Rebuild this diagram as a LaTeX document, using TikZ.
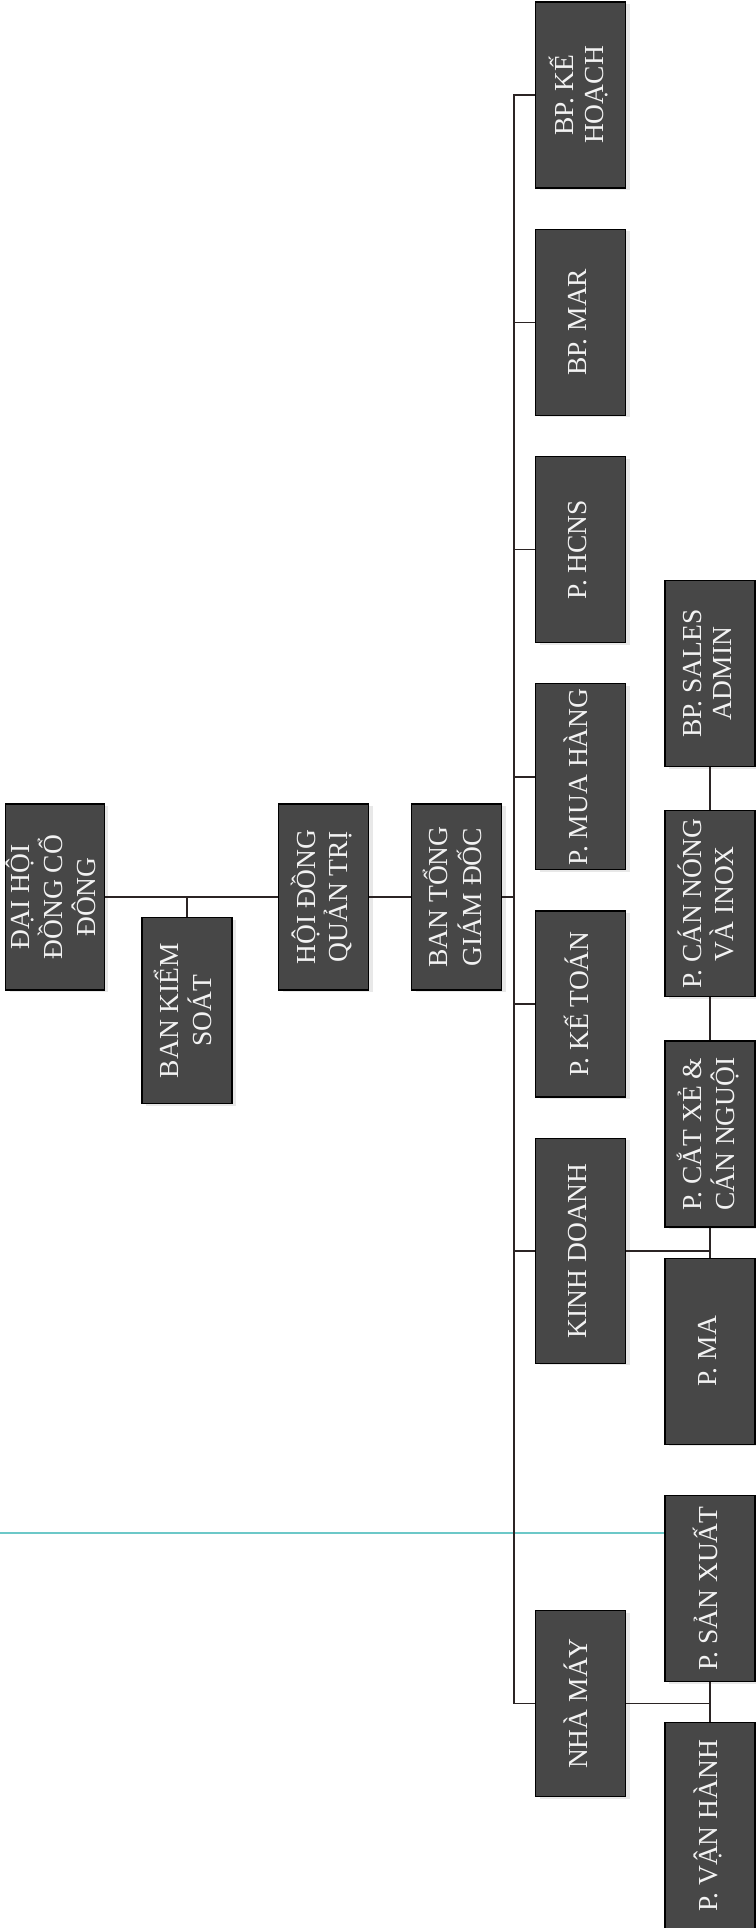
\documentclass[tikz,border=0pt]{standalone}
\usepackage{fontspec}
\setmainfont{Liberation Serif}
\usepackage{graphicx}
\usepackage{tikz}
\usetikzlibrary{positioning,calc,shadows}
\definecolor{boxfill}{HTML}{474747}
\definecolor{boxtext}{HTML}{F2F2F2}
\definecolor{linkline}{HTML}{2B2424}
\definecolor{scanline}{HTML}{6CC8C8}

\newcommand{\vlabel}[1]{\rotatebox{90}{\begin{tabular}{@{}c@{}}#1\end{tabular}}}

\begin{document}
\begin{tikzpicture}[
  x=0.4pt, y=-0.4pt,
  box/.style={draw=black, line width=0.5pt, fill=boxfill, text=boxtext, inner sep=0pt,
    minimum width=36pt, minimum height=74.4pt, align=center,
    font=\fontsize{11}{12}\selectfont,
    drop shadow={shadow xshift=1.6pt, shadow yshift=-0.8pt, opacity=0.18}},
  tallbox/.style={box, minimum height=90pt},
  link/.style={draw=linkline, line width=0.6pt},
]
  \useasboundingbox (0,0) rectangle (755,1928);

  % scanner streak
  \coordinate (streak) at (0,1533);
  \draw[scanline, line width=0.7pt] (streak) -- (665,1533);

  % top chain
  \node[box] (dhcd) at (55,897) {\vlabel{ĐẠI HỘI\\ĐỒNG CỔ\\ĐÔNG}};
  \node[box] (bks) at (187,1010.5) {\vlabel{BAN KIỂM\\SOÁT}};
  \node[box, right=69.2pt of dhcd] (hdqt) {\vlabel{HỘI ĐỒNG\\QUẢN TRỊ}};
  \node[box, right=16.8pt of hdqt] (btgd) {\vlabel{BAN TỔNG\\GIÁM ĐỐC}};

  % departments
  \node[box] (kehoach) at (580.5,95) {\vlabel{BP. KẾ\\HOẠCH}};
  \node[box, below=16pt of kehoach] (mar) {\vlabel{BP. MAR}};
  \node[box, below=16pt of mar] (hcns) {\vlabel{P. HCNS}};
  \node[box, below=16pt of hcns] (muahang) {\vlabel{P. MUA HÀNG}};
  \node[box, below=16pt of muahang] (ketoan) {\vlabel{P. KẾ TOÁN}};
  \node[tallbox, below=16pt of ketoan] (kinhdoanh) {\vlabel{KINH DOANH}};
  \node[box, below=98.4pt of kinhdoanh] (nhamay) {\vlabel{NHÀ MÁY}};

  % sub-departments
  \node[box] (salesadmin) at (710,673.5) {\vlabel{BP. SALES\\ADMIN}};
  \node[box, below=17.2pt of salesadmin] (cannong) {\vlabel{P. CÁN NÓNG\\VÀ INOX}};
  \node[box, below=17.2pt of cannong] (catxe) {\vlabel{P. CẮT XẺ \&\\CÁN NGUỘI}};
  \node[box, below=12pt of catxe] (pma) {\vlabel{P. MA}};
  \node[box, below=20pt of pma] (sanxuat) {\vlabel{P. SẢN XUẤT}};
  \node[box, below=16pt of sanxuat, minimum height=82.4pt] (vanhanh) {\vlabel{P. VẬN HÀNH}};

  % connectors
  \draw[link] (dhcd.east) -- (hdqt.west);
  \draw[link] (bks.north) -- (bks.north |- dhcd.east);
  \draw[link] (hdqt.east) -- (btgd.west);

  \coordinate (sptop) at ($(kehoach.west)+(-21,0)$);
  \draw[link] (kehoach.west) -- (sptop) -- (sptop |- nhamay.west) -- (nhamay.west);
  \draw[link] (btgd.east) -- (btgd.east -| sptop);
  \foreach \dept in {mar,hcns,muahang,ketoan,kinhdoanh}
    \draw[link] (\dept.west) -- (\dept.west -| sptop);

  \draw[link] (salesadmin.south) -- (cannong.north);
  \draw[link] (cannong.south) -- (catxe.north);
  \draw[link] (catxe.south) -- (pma.north);
  \draw[link] (kinhdoanh.east) -- (kinhdoanh.east -| pma.north);
  \draw[link] (sanxuat.south) -- (vanhanh.north);
  \draw[link] (nhamay.east) -- (nhamay.east -| vanhanh.north);
\end{tikzpicture}
\end{document}
